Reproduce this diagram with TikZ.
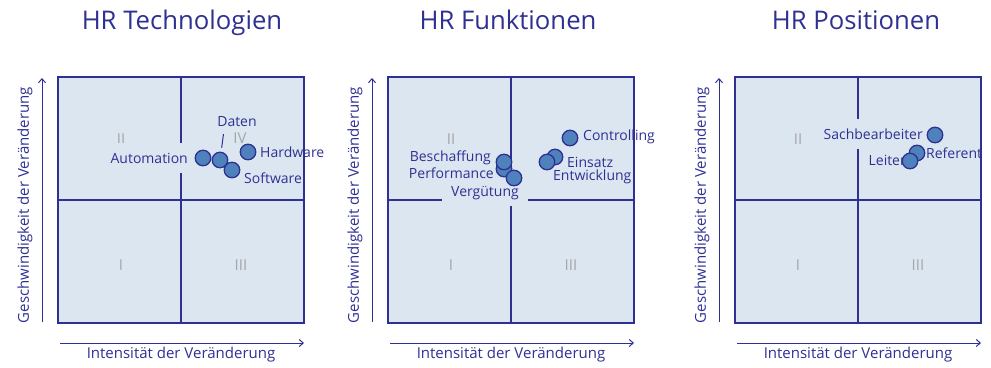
\documentclass[tikz,border=0pt]{standalone}
\usepackage{fontspec}
\setmainfont{Open Sans}
\usepackage{tikz}
\usetikzlibrary{arrows.meta}
\usetikzlibrary{positioning}
\definecolor{hrblue}{HTML}{2E3192}
\definecolor{hrfill}{HTML}{DCE6F1}
\definecolor{hrdot}{HTML}{4F81BD}
\definecolor{hrgray}{HTML}{A6A6A6}
\tikzset{quadbox/.style={draw=hrblue, line width=1.6pt, fill=hrfill, minimum width=246pt, minimum height=246pt, inner sep=0pt},
         midline/.style={draw=hrblue, line width=1.1pt},
         axisarrow/.style={draw=hrblue, line width=1pt, -{Straight Barb[length=4pt, width=7pt]}},
         axislabel/.style={text=hrblue, font=\fontsize{15}{17}\selectfont},
         quadnum/.style={text=hrgray, font=\fontsize{15}{17}\selectfont},
         titlelabel/.style={text=hrblue, font=\fontsize{25.7}{29}\selectfont, anchor=base},
         ptdot/.style={circle, draw=hrblue, fill=hrdot, line width=1.3pt, minimum size=15.5pt, inner sep=0pt},
         ptlabel/.style={text=hrblue, font=\fontsize{14}{16}\selectfont, inner sep=1pt},
         coverlabel/.style={ptlabel, fill=hrfill, inner xsep=8pt, minimum height=30pt}}

\begin{document}
\begin{tikzpicture}[x=1pt, y=-1pt]
  \useasboundingbox (0,0) rectangle (991,367);
  % titles
  \node[titlelabel] (tTech) at (182,29) {HR Technologien};
  \node[titlelabel] (tFunk) at (508,29) {HR Funktionen};
  \node[titlelabel] (tPos) at (856,29) {HR Positionen};
  % the three portfolio frames
  \foreach \pn/\px in {tech/58, funk/388, pos/735} {
    \node[quadbox] (\pn-box) at (\px+123,200) {};
    \draw[midline] (\pn-box.north) -- (\pn-box.south);
    \draw[midline] (\pn-box.west) -- (\pn-box.east);
    \coordinate (\pn-y0) at (\px-16,322);
    \coordinate (\pn-y1) at (\px-16,78);
    \coordinate (\pn-x0) at (\px+2,343);
    \coordinate (\pn-x1) at (\px+246,343);
    \draw[axisarrow] (\pn-y0) -- (\pn-y1);
    \draw[axisarrow] (\pn-x0) -- (\pn-x1);
    \node[axislabel, rotate=90] (\pn-ylab) at (\px-33,205) {Geschwindigkeit der Veränderung};
    \node[axislabel] (\pn-xlab) at (\px+123,355) {Intensität der Veränderung};
    \node[quadnum] (\pn-q1) at (\px+63,265) {I};
    \node[quadnum] (\pn-q2) at (\px+63,139) {II};
    \node[quadnum] (\pn-q3) at (\px+183,265) {III};
  }
  \node[quadnum] (tech-q4) at (240,138) {IV};
  % HR Technologien
  \node[coverlabel, anchor=east] (lAuto) at (196,158) {Automation};
  \node[ptlabel] (lDaten) at (237,122) {Daten};
  \node[ptlabel, anchor=west] (lHard) at (259,152) {Hardware};
  \node[ptlabel, anchor=west] (lSoft) at (243,178) {Software};
  \node[ptdot] (pAuto) at (203,158) {};
  \node[ptdot] (pDaten) at (220,160) {};
  \node[ptdot] (pSoft) at (232,170) {};
  \node[ptdot] (pHard) at (248,152) {};
  \coordinate (dTick) at (223.5,134);
  \draw[hrblue, line width=1pt, shorten >=4pt] (dTick) -- (pDaten);
  % HR Funktionen
  \node[coverlabel, inner xsep=9pt, minimum height=26pt] (lVerg) at (485,193) {Vergütung};
  \node[ptlabel, anchor=east] (lBesch) at (492,158) {Beschaffung};
  \node[ptlabel, anchor=east] (lPerf) at (495,173) {Performance};
  \node[ptlabel, anchor=west] (lContr) at (582,137) {Controlling};
  \node[ptlabel, anchor=west] (lEins) at (566,162) {Einsatz};
  \node[ptlabel, anchor=west] (lEntw) at (552,177) {Entwicklung};
  \node[ptdot] (pPerf) at (504,169) {};
  \node[ptdot] (pBesch) at (504,162) {};
  \node[ptdot] (pVerg) at (514,178) {};
  \node[ptdot] (pContr) at (570,138) {};
  \node[ptdot] (pEins) at (555,157) {};
  \node[ptdot] (pEntw) at (547,162) {};
  % HR Positionen
  \node[coverlabel, anchor=east] (lSach) at (931,134) {Sachbearbeiter};
  \node[ptlabel, anchor=west] (lRef) at (925,153) {Referent};
  \node[ptlabel, anchor=east] (lLeit) at (907,160) {Leiter};
  \node[ptdot] (pSach) at (935,135) {};
  \node[ptdot] (pRef) at (917,153) {};
  \node[ptdot] (pLeit) at (910,161) {};
\end{tikzpicture}
\end{document}
